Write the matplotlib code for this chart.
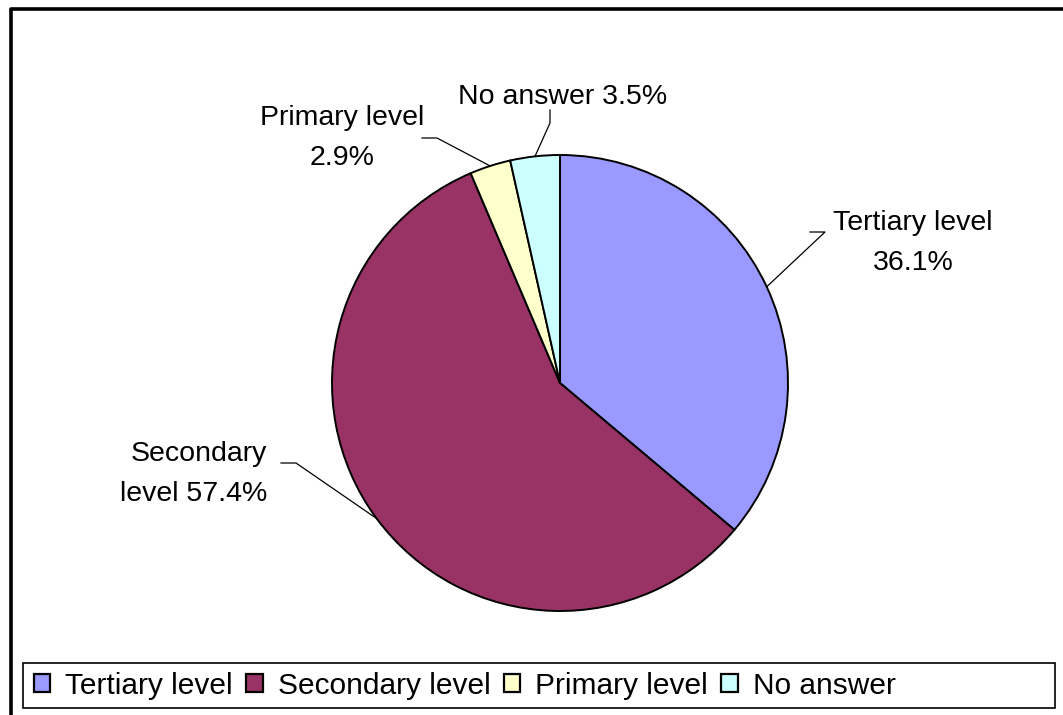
import numpy as np
import matplotlib.pyplot as plt
from matplotlib.patches import Rectangle, Patch

plt.rcParams['font.family'] = ['Liberation Sans', 'DejaVu Sans']

labels = ['Tertiary level', 'Secondary level', 'Primary level', 'No answer']
values = [36.1, 57.4, 2.9, 3.5]
colors = ['#9999FF', '#993366', '#FFFFCC', '#CCFFFF']
texts = ['Tertiary level\n36.1%', 'Secondary\nlevel 57.4%', 'Primary level\n2.9%', 'No answer 3.5%']

W, H = 1063, 715
fig = plt.figure(figsize=(W / 100, H / 100), dpi=100)
ax = fig.add_axes([0, 0, 1, 1])

# outer frame (left and top visible)
ax.plot([10.5, 10.5, W + 5], [-5, H - 8.5, H - 8.5], color='black', lw=2.6, solid_capstyle='butt')

cx, cy, r = 560, H - 383, 228
wedges, _ = ax.pie(values, colors=colors, startangle=90, counterclock=False,
                   center=(cx, cy), radius=r, frame=True,
                   wedgeprops=dict(edgecolor='black', linewidth=1.4))
ax.set_xlim(0, W)
ax.set_ylim(0, H)
ax.set_aspect('equal')
ax.axis('off')

# label text anchors, alignment, elbow and tail of leader lines (pixels from top-left)
text_pos = [(913, 243), (267, 474), (342, 138), (458, 97)]
text_ha = ['center', 'right', 'center', 'left']
elbow = [(825, 232), (296, 463), (437, 138), (550, 123)]
tail = [(810, 232), (281, 463), (422, 138), (550, 110)]

for w, t, tp, ha, el, tl in zip(wedges, texts, text_pos, text_ha, elbow, tail):
    ang = np.deg2rad((w.theta1 + w.theta2) / 2)
    px = cx + r * np.cos(ang)
    py = cy + r * np.sin(ang)
    ax.plot([px, el[0], tl[0]], [py, H - el[1], H - tl[1]], color='black', lw=0.9)
    ax.text(tp[0], H - tp[1], t, ha=ha, va='center', multialignment=ha if ha != 'left' else 'center',
            fontsize=20.5, linespacing=1.68)

# legend box
ax.add_patch(Rectangle((23, H - 708), 1032, 45, fill=False, edgecolor='black', lw=1.2))
handles = [Patch(facecolor=c, edgecolor='black', lw=1.6) for c in colors]
leg = ax.legend(handles, labels, ncol=4, loc='center left', bbox_to_anchor=(7 / W, 1 - 686 / H),
                frameon=False, fontsize=21.5, handlelength=0.55, handleheight=0.55,
                handletextpad=0.5, columnspacing=0.45)

fig.savefig('out.png', dpi=100)
